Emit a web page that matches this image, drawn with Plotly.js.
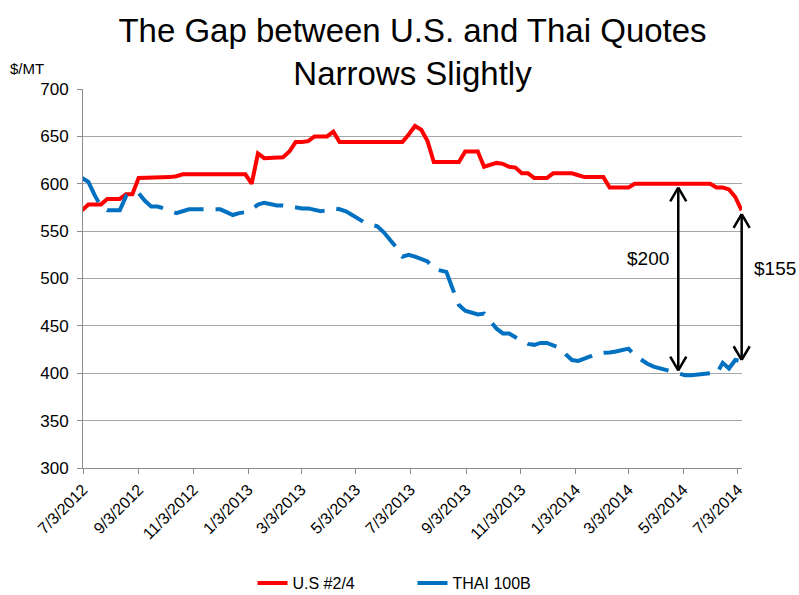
<!DOCTYPE html>
<html>
<head>
<meta charset="utf-8">
<script src="https://cdn.plot.ly/plotly-3.0.1.min.js"></script>
<style>
    body { margin: 0; background: #fff; }
    #chart { width: 799px; height: 595px; }
</style>
</head>
<body>
<div id="chart"></div>
<script>
// Weekly quotes, $/MT, first week starting 7/2/2012
const startDate = '2012-07-02';

const usQuotes = [
    572, 578, 578, 578, 584, 584, 584, 589, 589, 606,
    606, 606, 606, 607, 607, 608, 610, 610, 610, 610,
    610, 610, 610, 610, 610, 610, 610, 600, 632, 627,
    627, 627, 628, 634, 644, 644, 645, 650, 650, 650,
    655, 644, 644, 644, 644, 644, 644, 644, 644, 644,
    644, 644, 652, 661, 657, 645, 623, 623, 623, 623,
    623, 634, 634, 634, 618, 620, 622, 621, 618, 617,
    611, 611, 606, 606, 606, 611, 611, 611, 611, 609,
    607, 607, 607, 607, 596, 596, 596, 596, 600, 600,
    600, 600, 600, 600, 600, 600, 600, 600, 600, 600,
    600, 596, 596, 594, 586, 572
];

const thaiQuotes = [
    606, 602, 588, 576, 572, 572, 572, 587, 590, 590,
    582, 576, 576, 574, 571, 569, 571, 573, 573, 573,
    573, 573, 573, 570, 567, 569, 570, 573, 578, 580,
    578, 577, 577, 576, 574, 574, 574, 573, 571, 572,
    574, 573, 571, 567, 563, 559, 557, 555, 549, 541,
    533, 523, 525, 523, 521, 518, 510, 508, 507, 489,
    472, 466, 464, 462, 463, 455, 447, 442, 442, 438,
    434, 431, 430, 432, 432, 430, 427, 420, 414, 413,
    415, 418, 421, 421, 422, 423, 424, 426, 419, 414,
    410, 407, 405, 404, 402, 399, 398, 398, 399, 400,
    400, 399, 411, 405, 414, 413
];

const tickDates = [
    '2012-07-03', '2012-09-03', '2012-11-03', '2013-01-03', '2013-03-03',
    '2013-05-03', '2013-07-03', '2013-09-03', '2013-11-03', '2014-01-03',
    '2014-03-03', '2014-05-03', '2014-07-03'
];
const tickLabels = [
    '7/3/2012', '9/3/2012', '11/3/2012', '1/3/2013', '3/3/2013',
    '5/3/2013', '7/3/2013', '9/3/2013', '11/3/2013', '1/3/2014',
    '3/3/2014', '5/3/2014', '7/3/2014'
];

// Gap arrows: [paper x, top value, bottom value, label, label x, label value]
const gapArrows = [
    [0.9033, 596, 403, '$200', 0.858, 521],
    [0.9995, 568, 414, '$155', 1.05, 511]
];

// Build the weekly date list
function weeklyDates(start, n) {
    const out = [];
    const d0 = new Date(start + 'T00:00:00Z');
    for (let i = 0; i < n; i++) {
        const d = new Date(d0.getTime() + i * 7 * 86400000);
        out.push(d.toISOString().slice(0, 10));
    }
    return out;
}

const dates = weeklyDates(startDate, usQuotes.length);

// Double-headed arrow made from line shapes (open chevron heads)
function doubleArrow(xp, yTop, yBot) {
    const hw = 0.0122;   // half width of head, paper units
    const hh = 14.5;     // head height, $/MT
    const line = { color: '#000', width: 2.5 };
    const seg = (x0, y0, x1, y1) => ({
        type: 'line', xref: 'paper', yref: 'y',
        x0: x0, y0: y0, x1: x1, y1: y1, line: line
    });
    return [
        seg(xp, yTop, xp, yBot),
        seg(xp - hw, yTop - hh, xp, yTop),
        seg(xp + hw, yTop - hh, xp, yTop),
        seg(xp - hw, yBot + hh, xp, yBot),
        seg(xp + hw, yBot + hh, xp, yBot)
    ];
}

const traces = [
    {
        x: dates, y: usQuotes, name: 'U.S #2/4',
        type: 'scatter', mode: 'lines',
        line: { color: '#ff0000', width: 4 }
    },
    {
        x: dates, y: thaiQuotes, name: 'THAI 100B',
        type: 'scatter', mode: 'lines',
        line: { color: '#0070c0', width: 4, dash: '30px,12px' }
    }
];

const shapes = [];
const annotations = [
    {
        text: '$/MT', xref: 'paper', yref: 'paper', x: -0.085, y: 1.055,
        xanchor: 'center', yanchor: 'middle',
        showarrow: false, font: { size: 15, color: '#000' }
    }
];
gapArrows.forEach(a => {
    shapes.push(...doubleArrow(a[0], a[1], a[2]));
    annotations.push({
        text: a[3], xref: 'paper', yref: 'y', x: a[4], y: a[5],
        xanchor: 'center', yanchor: 'middle',
        showarrow: false, font: { size: 19, color: '#000' }
    });
});

const layout = {
    width: 799,
    height: 595,
    margin: { l: 83, r: 57, t: 89, b: 127 },
    paper_bgcolor: '#fff',
    plot_bgcolor: '#fff',
    font: { family: 'Liberation Sans, Arial, sans-serif', color: '#000' },
    title: {
        text: 'The Gap between U.S. and Thai Quotes<br>Narrows Slightly',
        font: { size: 33, color: '#000' },
        x: 0.5, xref: 'paper', xanchor: 'center',
        y: 0.93, yref: 'container', yanchor: 'top'
    },
    xaxis: {
        type: 'date',
        range: ['2012-07-03', '2014-07-07 12:00'],
        tickvals: tickDates,
        ticktext: tickLabels,
        tickangle: -45,
        tickfont: { size: 16 },
        ticks: 'outside', ticklen: 5, tickcolor: '#8c8c8c',
        showgrid: false,
        showline: true, linecolor: '#8c8c8c', linewidth: 1,
        zeroline: false,
        automargin: false
    },
    yaxis: {
        range: [300, 700],
        dtick: 50,
        tickfont: { size: 17 },
        ticks: 'outside', ticklen: 5, tickcolor: '#8c8c8c',
        ticklabelstandoff: 5,
        showgrid: true, gridcolor: '#a6a6a6', gridwidth: 1,
        showline: true, linecolor: '#8c8c8c', linewidth: 1,
        zeroline: false,
        automargin: false
    },
    showlegend: true,
    legend: {
        orientation: 'h',
        x: 0.5, xanchor: 'center', xref: 'paper',
        y: 0.02, yanchor: 'middle', yref: 'container',
        entrywidth: 115,
        font: { size: 16 }
    },
    shapes: shapes,
    annotations: annotations
};

Plotly.newPlot('chart', traces, layout, { displayModeBar: false, staticPlot: true });
</script>
</body>
</html>
